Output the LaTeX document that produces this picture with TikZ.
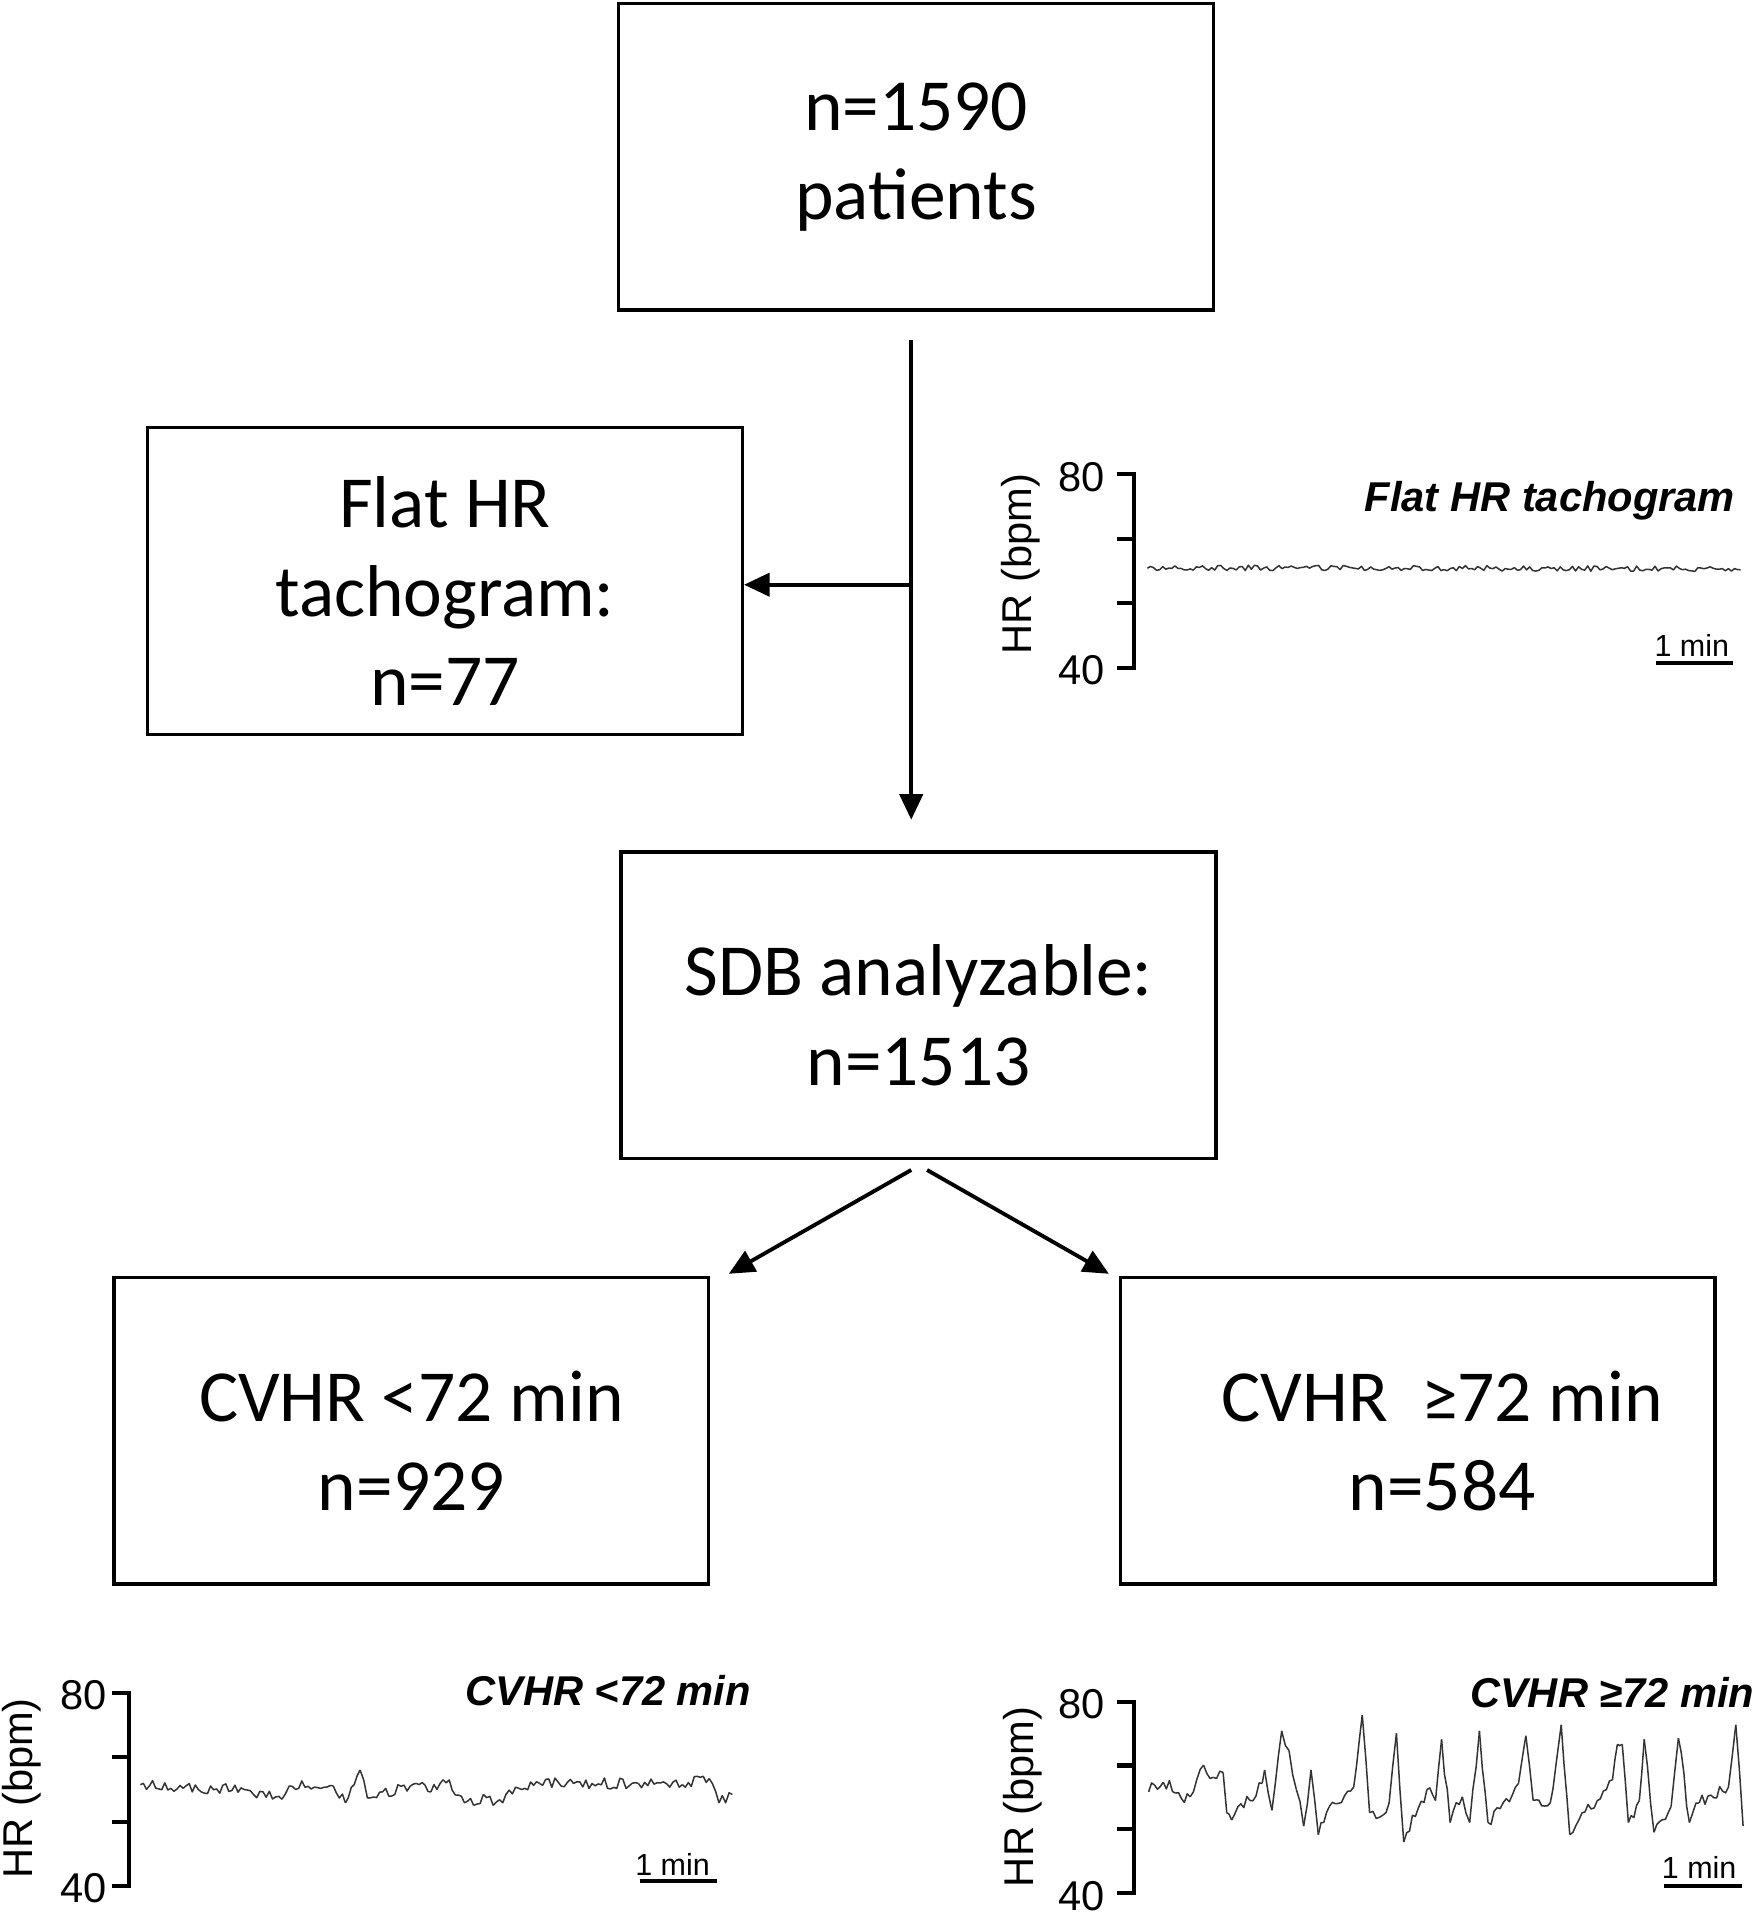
\documentclass[tikz,border=0pt]{standalone}
\usepackage{fontspec}
\setmainfont{Carlito}
\newfontfamily\chartfont{Liberation Sans}
\usetikzlibrary{positioning,arrows.meta}
\tikzset{>={Triangle[length=2.1mm,width=1.9mm]}}
\newcommand\lift{\rule{0pt}{0.58cm}}

\begin{document}
\begin{tikzpicture}[x=0.01cm,y=-0.01cm,
  stage/.style={draw,line width=0.8pt,minimum width=4.87cm,minimum height=2.51cm,align=center,font=\fontsize{17.1}{20.8}\selectfont},
  link/.style={->,line width=0.9pt},
  axisline/.style={line width=0.95pt},
  ticklabel/.style={anchor=east,inner sep=0pt,font=\chartfont\fontsize{9.7}{11}\selectfont},
  ylab/.style={rotate=90,inner sep=0pt,font=\chartfont\fontsize{9.7}{11}\selectfont},
  charttitle/.style={anchor=east,inner sep=0pt,font=\chartfont\bfseries\itshape\fontsize{9.7}{11}\selectfont},
  minlab/.style={inner sep=0pt,font=\chartfont\fontsize{7.1}{8}\selectfont},
  scalebar/.style={line width=0.95pt},
  trace/.style={line width=0.35pt,black!80,line join=round}]
\pgfmathsetseed{7}
\useasboundingbox (0,0) rectangle (1442,1568);

% flow chart
\node[stage] (total) at (750.5,128.5) {n=1590\\patients};
\node[stage] (flat) at (364.5,476) {\lift Flat HR\\tachogram:\\n=77};
\node[stage] (sdb) at (752.5,823.5) {\lift SDB analyzable:\\n=1513};
\node[stage] (low) at (337,1172) {\lift CVHR <72 min\\n=929};
\node[stage] (high) at (1161.5,1172) {\lift\hspace*{0.4cm}CVHR\ \ ≥72 min\\\hspace*{0.4cm}n=584};

\coordinate (split) at (746.5,479);
\draw[link,shorten <=0.23cm,shorten >=0.25cm] (total.south -| split) -- (sdb.north -| split);
\draw[link] (split) -- (split -| flat.east);
\draw[link] ([shift={(-6,8)}]sdb.south) -- ([shift={(15,-1.5)}]low.north east);
\draw[link] ([shift={(7,8)}]sdb.south) -- ([shift={(-8,-1.5)}]high.north west);

% flat tachogram
\draw[axisline] (915,388.5) -- (929,388.5) -- (929,547) -- (915,547);
\foreach \t in {441.3,494.2} \draw[axisline] (915,\t) -- (929,\t);
\node[ticklabel] (flat80) at (906,391) {80};
\node[ticklabel] (flat40) at (906,549) {40};
\node[ylab] (flatunit) at (836,462) {HR (bpm)};
\node[charttitle] (flattitle) at (1422,410) {Flat HR tachogram};
\node[minlab] (flatmin) at (1386,529) {1 min};
\draw[scalebar] (1357,543) -- (1420,543);
\draw[trace] plot[domain=940:1426,samples=195] (\x,{466+2.2*rand-0.002*(1426-\x)});

% CVHR < 72 min
\draw[axisline] (92,1387) -- (106,1387) -- (106,1545) -- (92,1545);
\foreach \t in {1439.7,1492.3} \draw[axisline] (92,\t) -- (106,\t);
\node[ticklabel] (low80) at (88,1389) {80};
\node[ticklabel] (low40) at (88,1547) {40};
\node[ylab] (lowunit) at (18,1465) {HR (bpm)};
\node[charttitle] (lowtitle) at (616,1385) {CVHR <72 min};
\node[minlab] (lowmin) at (551,1527) {1 min};
\draw[scalebar] (524,1541) -- (587,1541);
\foreach \x/\y [remember=\x as \lx (initially 115),remember=\y as \ly (initially 1462)] in
  {150/1465,200/1466,231/1474,237/1463,273/1463,283/1477,295/1450,301/1473,341/1461,353/1468,
   363/1458,388/1479,396/1470,404/1479,425/1465,442/1461,523/1461,559/1462,581/1457,589/1477,600/1470}{
  \pgfmathtruncatemacro\n{max(2,round((\x-\lx)/2.5)+1)}
  \draw[trace] plot[domain=0:1,samples=\n,variable=\s] ({\lx+\s*(\x-\lx)},{\ly+\s*(\y-\ly)+4.5*rand*min(1,4*sin(180*\s))});
}

% CVHR >= 72 min
\draw[axisline] (915,1394) -- (929,1394) -- (929,1551) -- (915,1551);
\foreach \t in {1446.3,1498.7} \draw[axisline] (915,\t) -- (929,\t);
\node[ticklabel] (high80) at (906,1396) {80};
\node[ticklabel] (high40) at (906,1553) {40};
\node[ylab] (highunit) at (838,1472) {HR (bpm)};
\node[charttitle] (hightitle) at (1438,1387) {CVHR ≥72 min};
\node[minlab] (highmin) at (1392,1530) {1 min};
\draw[scalebar] (1363,1545) -- (1427,1545);
\foreach \x/\y [remember=\x as \lx (initially 941),remember=\y as \ly (initially 1468)] in
  {953/1460,963/1469,975/1472,986/1446,994/1456,1002/1452,1005/1485,1009/1491,1024/1475,1034/1461,
   1036/1450,1042/1483,1050/1418,1056/1434,1062/1466,1068/1496,1074/1450,1080/1503,1089/1480,1109/1464,
   1116/1405,1122/1485,1133/1487,1138/1477,1144/1420,1150/1509,1169/1466,1176/1475,1181/1425,1188/1493,
   1198/1472,1204/1493,1212/1418,1219/1493,1244/1461,1250/1422,1256/1475,1270/1477,1279/1413,1286/1503,
   1321/1458,1325/1429,1329/1429,1334/1493,1343/1475,1347/1425,1355/1501,1369/1480,1375/1424,1384/1493,
   1392/1477,1416/1464,1422/1413,1428/1496}{
  \pgfmathtruncatemacro\n{max(2,round((\x-\lx)/2.5)+1)}
  \draw[trace] plot[domain=0:1,samples=\n,variable=\s] ({\lx+\s*(\x-\lx)},{\ly+\s*(\y-\ly)+6*rand*min(1,4*sin(180*\s))});
}

\end{tikzpicture}
\end{document}
